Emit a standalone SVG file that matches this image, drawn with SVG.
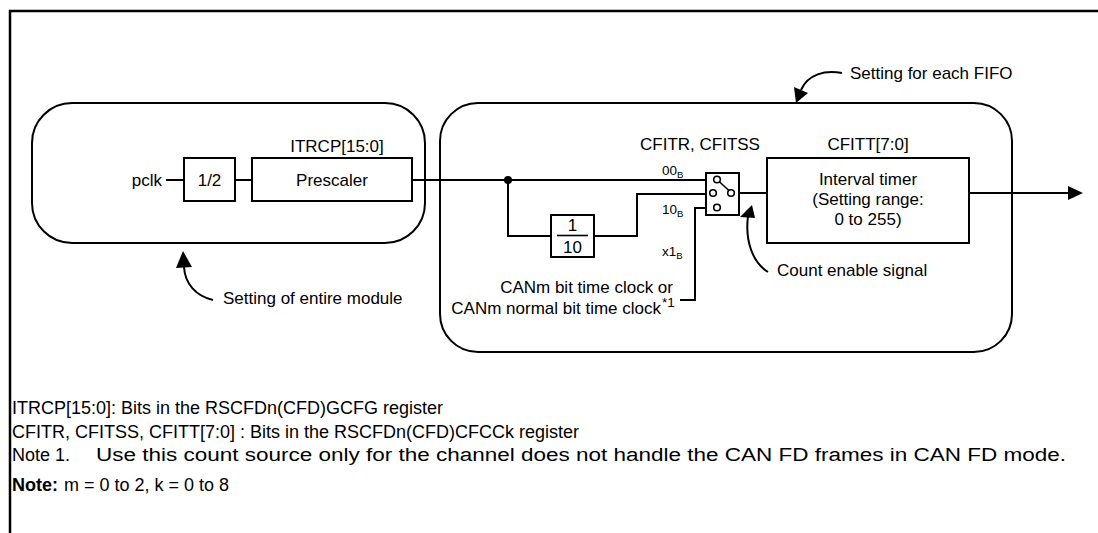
<svg xmlns="http://www.w3.org/2000/svg" width="1098" height="533" viewBox="0 0 1098 533">
<style>
.t{font-family:"Liberation Sans",Arial,sans-serif;font-size:17px;fill:#000}
.f{font-family:"Liberation Sans",Arial,sans-serif;font-size:18px;fill:#000}
.s{font-family:"Liberation Sans",Arial,sans-serif;font-size:13.5px;fill:#000}
.sub{font-size:9.5px}
.ln{fill:none;stroke:#000;stroke-width:2}
.bx{fill:#fff;stroke:#000;stroke-width:2}
.rb{fill:none;stroke:#000;stroke-width:2}
.c{fill:#fff;stroke:#000;stroke-width:1.6}
.ah{fill:#000;stroke:none}
</style>
<rect width="1098" height="533" fill="#fff"/>
<path d="M10,533 V11 H1098" fill="none" stroke="#000" stroke-width="2.5"/>

<g id="module-box">
<rect class="rb" x="32" y="103" width="393" height="140" rx="40" ry="40"/>
</g>
<g id="fifo-box">
<rect class="rb" x="440" y="103" width="572" height="249" rx="38" ry="38"/>
</g>

<g id="connectors">
<path class="ln" d="M166,180 H184"/>
<path class="ln" d="M235,180 H252"/>
<path class="ln" d="M412,180 H707"/>
<circle cx="508" cy="180" r="4" fill="#000"/>
<path class="ln" d="M508,180 V236 H551"/>
<path class="ln" d="M594,236 H637 V194 H707"/>
<path class="ln" d="M680,300 H695 V208 H707"/>
<path class="ln" d="M739,193 H767"/>
<path class="ln" d="M969,193 H1068"/>
<polygon class="ah" points="1068,186 1083,193 1068,200"/>
</g>

<g id="pclk">
<text class="t" x="162" y="186" text-anchor="end">pclk</text>
</g>
<g id="div2">
<rect class="bx" x="184" y="158" width="51" height="43"/>
<text class="t" x="209.5" y="186" text-anchor="middle">1/2</text>
</g>
<g id="prescaler">
<text class="t" x="337" y="152" text-anchor="middle">ITRCP[15:0]</text>
<rect class="bx" x="252" y="158" width="160" height="43"/>
<text class="t" x="332" y="186" text-anchor="middle">Prescaler</text>
</g>
<g id="div10">
<rect class="bx" x="551" y="215" width="43" height="42"/>
<text class="t" x="572.5" y="231" text-anchor="middle">1</text>
<path d="M557,235.5 H588" stroke="#000" stroke-width="1.6"/>
<text class="t" x="572.5" y="253" text-anchor="middle">10</text>
</g>
<g id="switch">
<text class="t" x="700" y="150" text-anchor="middle">CFITR, CFITSS</text>
<rect class="bx" x="706" y="173" width="33" height="42" stroke-width="1.8"/>
<path d="M719,181.5 L729,190.5" stroke="#000" stroke-width="1.6"/>
<circle class="c" cx="717" cy="179.5" r="3.3"/>
<circle class="c" cx="713" cy="193" r="3.3"/>
<circle class="c" cx="731" cy="193" r="3.3"/>
<circle class="c" cx="717" cy="207.5" r="3.3"/>
<text class="s" x="662" y="175">00<tspan class="sub" dy="3">B</tspan></text>
<text class="s" x="662" y="214">10<tspan class="sub" dy="3">B</tspan></text>
<text class="s" x="662" y="256">x1<tspan class="sub" dy="3">B</tspan></text>
</g>
<g id="can-clock">
<text class="t" x="673" y="293" text-anchor="end">CANm bit time clock or</text>
<text class="t" x="661" y="314" text-anchor="end">CANm normal bit time clock</text>
<text class="s" x="662" y="307" font-size="9px">*1</text>
</g>
<g id="interval-timer">
<text class="t" x="868" y="150" text-anchor="middle">CFITT[7:0]</text>
<rect class="bx" x="767" y="158" width="202" height="85"/>
<text class="t" x="868" y="185" text-anchor="middle">Interval timer</text>
<text class="t" x="868" y="205" text-anchor="middle">(Setting range:</text>
<text class="t" x="868" y="225" text-anchor="middle">0 to 255)</text>
</g>

<g id="note-fifo">
<path class="ln" d="M842,73 C825,70 808,74 801,90"/>
<polygon class="ah" points="796,103 794,87 808,93"/>
<text class="t" x="850" y="79">Setting for each FIFO</text>
</g>
<g id="note-module">
<path class="ln" d="M213,300 C196,296 185,284 184,267"/>
<polygon class="ah" points="183,251 176,268 192,267"/>
<text class="t" x="223" y="304">Setting of entire module</text>
</g>
<g id="note-count">
<path class="ln" d="M768,272 C752,262 745,240 748,216"/>
<polygon class="ah" points="752,205 740,217 755,218"/>
<text class="t" x="777" y="276">Count enable signal</text>
</g>

<g id="footer">
<text class="f" x="12" y="414">ITRCP[15:0]: Bits in the RSCFDn(CFD)GCFG register</text>
<text class="f" x="12" y="438">CFITR, CFITSS, CFITT[7:0] : Bits in the RSCFDn(CFD)CFCCk register</text>
<text class="f" x="12" y="461">Note 1.</text>
<text class="f" x="96" y="461" textLength="970" lengthAdjust="spacingAndGlyphs">Use this count source only for the channel does not handle the CAN FD frames in CAN FD mode.</text>
<text class="f" x="12" y="491" font-weight="bold">Note:</text>
<text class="f" x="64" y="491">m = 0 to 2, k = 0 to 8</text>
</g>
</svg>
